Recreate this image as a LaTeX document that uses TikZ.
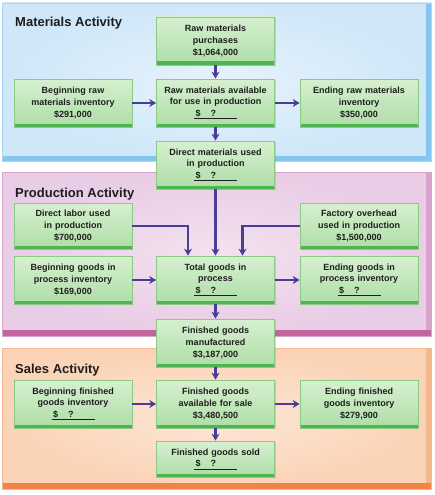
\documentclass[tikz,border=0pt]{standalone}
\usepackage{fontspec}
\setmainfont{Liberation Sans}
\usepackage{xcolor}
\usepackage{tikz}
\usetikzlibrary{positioning}
\usetikzlibrary{arrows.meta}
\usetikzlibrary{shadows}

\definecolor{bluefill}{HTML}{CFE7F8}
\definecolor{bluelite}{HTML}{E6F3FC}
\definecolor{blueedge}{HTML}{84C6EE}
\definecolor{pinkfill}{HTML}{E9CCE5}
\definecolor{pinklite}{HTML}{F3E2F0}
\definecolor{pinkedge}{HTML}{C4649F}
\definecolor{pinkside}{HTML}{D9A2CC}
\definecolor{orgfill}{HTML}{FBD3B6}
\definecolor{orglite}{HTML}{FDE6D6}
\definecolor{orgedge}{HTML}{EF8446}
\definecolor{orgside}{HTML}{F5B88E}
\definecolor{boxtop}{HTML}{D6F0D0}
\definecolor{boxbot}{HTML}{AEDDA6}
\definecolor{boxedge}{HTML}{8CC985}
\definecolor{boxband}{HTML}{4FB64F}
\definecolor{arrowc}{HTML}{4A3D98}
\definecolor{txt}{HTML}{1E1E1E}

\newcommand\boxfont{\fontsize{9}{11.6}\selectfont\bfseries}
\newcommand\blank{\underline{\makebox[43pt][l]{\,\$\hspace{10pt}?}}}

\begin{document}
\begin{tikzpicture}[x=1pt,y=-1pt,
  box/.style={draw=boxedge,line width=0.7pt,top color=boxtop,bottom color=boxbot,
    minimum width=118pt,minimum height=48pt,text width=116pt,align=center,
    inner sep=1pt,font=\boxfont,text=txt,
    drop shadow={shadow xshift=1.2pt,shadow yshift=-1.2pt,opacity=0.25},
    path picture={\fill[boxband] ([yshift=3.5pt]path picture bounding box.south west) rectangle (path picture bounding box.south east);}},
  flow/.style={draw=arrowc,line width=2.7pt,-{Stealth[length=7pt,width=8pt]}},
  title/.style={anchor=base west,font=\fontsize{13}{15}\selectfont\bfseries,text=txt,inner sep=0pt}]
\useasboundingbox (0,0) rectangle (435,495);

% panels
\shade[inner color=bluelite,outer color=bluefill] (2,3) rectangle (431,161);
\fill[blueedge] (426,3) rectangle (431,161);
\fill[blueedge] (2,156) rectangle (431,161);
\draw[blueedge!70,line width=0.6pt] (2,3) rectangle (431,161);

\shade[inner color=pinklite,outer color=pinkfill] (2,172) rectangle (431,336);
\fill[pinkside] (426,172) rectangle (431,336);
\fill[pinkedge] (2,330) rectangle (431,336);
\draw[pinkside,line width=0.6pt] (2,172) rectangle (431,336);

\shade[inner color=orglite,outer color=orgfill] (2,348) rectangle (431,489);
\fill[orgside] (426,348) rectangle (431,489);
\fill[orgedge] (2,483) rectangle (431,489);
\draw[orgside,line width=0.6pt] (2,348) rectangle (431,489);

\node[title] (tmat) at (15,27) {Materials Activity};
\node[title] (tprod) at (15,197) {Production Activity};
\node[title] (tsal) at (15,373) {Sales Activity};

% materials
\node[box] (rmp) at (215.5,41) {Raw materials\\purchases\\\$1,064,000};
\node[box] (brm) at (73,103) {Beginning raw\\materials inventory\\\$291,000};
\node[box] (rma) at (215.5,103) {Raw materials available\\for use in production\\\blank};
\node[box] (erm) at (359,103) {Ending raw materials\\inventory\\\$350,000};
\node[box] (dmu) at (215.5,165) {Direct materials used\\in production\\\blank};

% production
\node[box,minimum height=46pt] (dl) at (73,226) {Direct labor used\\in production\\\$700,000};
\node[box,minimum height=46pt] (fo) at (359,226) {Factory overhead\\used in production\\\$1,500,000};
\node[box] (bgp) at (73,280) {Beginning goods in\\process inventory\\\$169,000};
\node[box] (tgp) at (215.5,280) {Total goods in\\process\\\blank};
\node[box] (egp) at (359,280) {Ending goods in\\process inventory\\\blank};
\node[box] (fgm) at (215.5,343) {Finished goods\\manufactured\\\$3,187,000};

% sales
\node[box] (bfg) at (73,404) {Beginning finished\\goods inventory\\\blank};
\node[box] (fga) at (215.5,404) {Finished goods\\available for sale\\\$3,480,500};
\node[box] (efg) at (359,404) {Ending finished\\goods inventory\\\$279,900};
\node[box,minimum height=36pt] (fgs) at (215.5,459) {Finished goods sold\\\blank};

% flows
\draw[flow] (rmp) -- (rma);
\draw[flow] (brm) -- (rma);
\draw[flow] (rma) -- (erm);
\draw[flow] (rma) -- (dmu);
\draw[flow] (dmu) -- (tgp);
\draw[flow] (dl.east) -| ([xshift=-27.5pt]tgp.north);
\draw[flow] (fo.west) -| ([xshift=27pt]tgp.north);
\draw[flow] (bgp) -- (tgp);
\draw[flow] (tgp) -- (egp);
\draw[flow] (tgp) -- (fgm);
\draw[flow] (fgm) -- (fga);
\draw[flow] (bfg) -- (fga);
\draw[flow] (fga) -- (efg);
\draw[flow] (fga) -- (fgs);
\end{tikzpicture}
\end{document}
